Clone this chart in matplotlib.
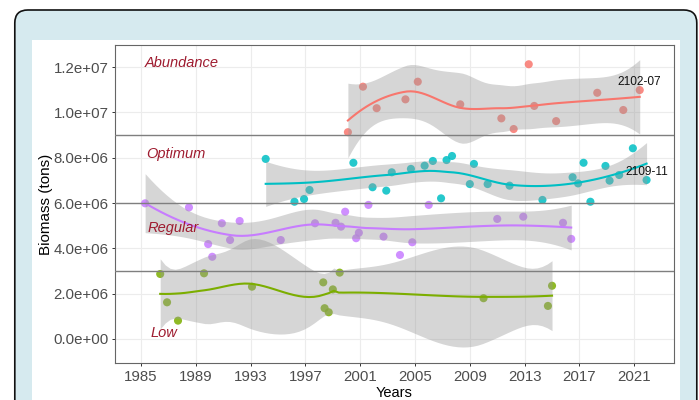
import numpy as np
import matplotlib
matplotlib.use("Agg")
import matplotlib.pyplot as plt
from matplotlib.patches import FancyBboxPatch, Rectangle

plt.rcParams["font.family"] = ["Liberation Sans", "DejaVu Sans"]

# biomass observations (tons) per stock state
abundance_year = [2000.1, 2001.2, 2002.2, 2004.3, 2005.2, 2008.3, 2011.3, 2012.2,
                  2013.3, 2013.7, 2015.3, 2018.3, 2020.2, 2021.4]
abundance_tons = [9.13e6, 11.14e6, 10.19e6, 10.58e6, 11.36e6, 10.36e6, 9.74e6, 9.27e6,
                  12.13e6, 10.29e6, 9.62e6, 10.87e6, 10.11e6, 10.99e6]

optimum_year = [1994.1, 1996.2, 1996.9, 1997.3, 2000.5, 2001.9, 2002.9, 2003.3,
                2004.7, 2005.7, 2006.3, 2006.9, 2007.3, 2007.7, 2009.0, 2009.3,
                2010.3, 2011.9, 2014.3, 2016.5, 2016.9, 2017.3, 2017.8, 2018.9,
                2019.2, 2019.9, 2020.9, 2021.9]
optimum_tons = [7.95e6, 6.06e6, 6.18e6, 6.58e6, 7.78e6, 6.70e6, 6.55e6, 7.36e6,
                7.51e6, 7.65e6, 7.86e6, 6.21e6, 7.90e6, 8.08e6, 6.84e6, 7.73e6,
                6.84e6, 6.77e6, 6.14e6, 7.14e6, 6.87e6, 7.78e6, 6.06e6, 7.64e6,
                6.99e6, 7.24e6, 8.42e6, 7.02e6]

regular_year = [1985.3, 1988.5, 1989.9, 1990.2, 1990.9, 1991.5, 1992.2, 1995.2,
                1997.7, 1999.2, 1999.6, 1999.9, 2000.7, 2000.9, 2001.6, 2002.7,
                2003.9, 2004.8, 2006.0, 2011.0, 2012.9, 2015.8, 2016.4]
regular_tons = [5.99e6, 5.81e6, 4.19e6, 3.63e6, 5.11e6, 4.37e6, 5.21e6, 4.37e6,
                5.11e6, 5.13e6, 4.96e6, 5.62e6, 4.45e6, 4.69e6, 5.92e6, 4.52e6,
                3.71e6, 4.27e6, 5.92e6, 5.30e6, 5.40e6, 5.13e6, 4.42e6]

low_year = [1986.4, 1986.9, 1987.7, 1989.6, 1993.1, 1998.3, 1998.4, 1998.7,
            1999.0, 1999.5, 2010.0, 2014.7, 2015.0]
low_tons = [2.87e6, 1.62e6, 0.81e6, 2.90e6, 2.31e6, 2.50e6, 1.36e6, 1.18e6,
            2.19e6, 2.93e6, 1.80e6, 1.46e6, 2.35e6]

thresholds = [9e6, 6e6, 3e6]
state_names = ["Abundance", "Optimum", "Regular", "Low"]
state_label_pos = [(1985.3, 12.19e6), (1985.35, 8.17e6), (1985.5, 4.9e6), (1985.7, 0.27e6)]
date_labels = [("2102-07", 2021.4, 11.36e6), ("2109-11", 2021.9, 7.38e6)]
x_ticks = list(range(1985, 2022, 4))
y_ticks = [0, 2e6, 4e6, 6e6, 8e6, 10e6, 12e6]


def t_quantile(df, z=1.959964):
    # Cornish-Fisher expansion of the Student t 97.5% quantile
    g1 = (z**3 + z) / 4
    g2 = (5 * z**5 + 16 * z**3 + 3 * z) / 96
    g3 = (3 * z**7 + 19 * z**5 + 17 * z**3 - 15 * z) / 384
    g4 = (79 * z**9 + 776 * z**7 + 1482 * z**5 - 1920 * z**3 - 945 * z) / 92160
    return z + g1 / df + g2 / df**2 + g3 / df**3 + g4 / df**4


def kd_vertices(xs, fc):
    """Split points at the median until each cell holds at most fc of them."""
    margin = 0.005 * (xs[-1] - xs[0])
    verts = [xs[0] - margin, xs[-1] + margin]

    def split(l, u, vlo, vhi):
        if u - l + 1 <= fc:
            return
        m = (l + u + 2) // 2 - 1
        while m > l and xs[m - 1] == xs[m]:
            m -= 1
        v = xs[m]
        if v == vlo or v == vhi:
            return
        verts.append(v)
        split(l, m, vlo, v)
        split(m + 1, u, v, vhi)

    split(0, len(xs) - 1, verts[0], verts[1])
    return np.array(sorted(verts))


def loess(x, y, grid, span=0.75, cell=0.2):
    """Local quadratic fit (kd-tree vertices + Hermite interpolation) with a 95% band."""
    x = np.asarray(x, float)
    y = np.asarray(y, float)
    n = len(x)
    q = int(np.floor(n * span + 1e-5))
    fc = int(np.floor(n * span * cell))

    def local_rows(x0):
        d = np.abs(x - x0)
        h = np.sort(d)[q - 1]
        u = np.clip(d / h, 0, 1)
        w = (1 - u**3) ** 3
        X = np.column_stack([np.ones(n), x - x0, (x - x0) ** 2])
        XtW = X.T * w
        sol = np.linalg.solve(XtW @ X, XtW)
        return sol[0], sol[1]

    verts = kd_vertices(np.sort(x), fc)
    rows = [local_rows(v) for v in verts]
    V0 = np.array([r[0] for r in rows])
    V1 = np.array([r[1] for r in rows])

    def interp_rows(z):
        z = np.atleast_1d(z)
        j = np.clip(np.searchsorted(verts, z, side="right") - 1, 0, len(verts) - 2)
        h = verts[j + 1] - verts[j]
        t = ((z - verts[j]) / h)[:, None]
        phi0 = (1 - t) ** 2 * (1 + 2 * t)
        phi1 = t**2 * (3 - 2 * t)
        psi0 = t * (1 - t) ** 2
        psi1 = t**2 * (t - 1)
        return (phi0 * V0[j] + phi1 * V0[j + 1]
                + (psi0 * V1[j] + psi1 * V1[j + 1]) * h[:, None])

    L = interp_rows(x)
    G = interp_rows(grid)
    fit = G @ y
    M = np.eye(n) - L
    MM = M.T @ M
    d1 = np.trace(MM)
    d2 = np.trace(MM @ MM)
    s = np.sqrt(np.sum((M @ y) ** 2) / d1)
    se = s * np.sqrt(np.sum(G**2, axis=1))
    tq = t_quantile(d1**2 / d2)
    return fit, fit - tq * se, fit + tq * se


def main():
    fig = plt.figure(figsize=(6.99, 4.0), dpi=100)

    # page frame and white plot card
    fig.patches.append(FancyBboxPatch((0.148, -0.3), 6.82, 4.2,
                                      boxstyle="round,pad=0,rounding_size=0.13",
                                      transform=fig.dpi_scale_trans, facecolor="#d6eaef",
                                      edgecolor="#111111", linewidth=1.2, zorder=-2))
    fig.patches.append(Rectangle((0.32, -0.3), 6.48, 3.9, transform=fig.dpi_scale_trans,
                                 facecolor="white", edgecolor="none", zorder=-1))

    ax = fig.add_axes([0.1645, 0.0925, 0.7997, 0.795])
    ax.set_zorder(2)
    ax.set_facecolor("white")

    groups = [
        (abundance_year, abundance_tons, "#F8766D"),
        (low_year, low_tons, "#7CAE00"),
        (optimum_year, optimum_tons, "#00BFC4"),
        (regular_year, regular_tons, "#C77CFF"),
    ]

    for yrs, vals, col in groups:
        ax.scatter(yrs, vals, s=34, color=col, alpha=0.85, edgecolors="none", zorder=2)

    for yrs, vals, col in groups:
        grid = np.linspace(min(yrs), max(yrs), 80)
        fit, lo, hi = loess(yrs, vals, grid)
        ax.fill_between(grid, lo, hi, color="#999999", alpha=0.4, linewidth=0, zorder=3)
        ax.plot(grid, fit, color=col, linewidth=1.5, zorder=4)

    for t in thresholds:
        ax.axhline(t, color="#7f7f7f", linewidth=1.0, zorder=5)

    for name, (px, py) in zip(state_names, state_label_pos):
        ax.text(px, py, name, color="#9e1b2f", fontsize=10.5, style="italic",
                ha="left", va="center", zorder=6)
    for txt, px, py in date_labels:
        ax.text(px, py, txt, color="#111111", fontsize=8.6, ha="center", va="center", zorder=6)

    ax.set_xlim(1983.1, 2023.9)
    ax.set_ylim(-1.06e6, 12.98e6)
    ax.set_xticks(x_ticks)
    ax.set_yticks(y_ticks)
    ax.set_yticklabels([f"{v:.1e}" for v in y_ticks])
    ax.grid(True, color="#ececec", linewidth=0.8, zorder=0)
    ax.set_axisbelow(True)

    ax.tick_params(axis="both", length=2.2, width=0.7, color="#333333",
                   labelcolor="#4d4d4d", labelsize=10.8, pad=2.5)
    for sp in ax.spines.values():
        sp.set_color("#666666")
        sp.set_linewidth(0.8)

    ax.set_xlabel("Years", fontsize=10.5, color="black", labelpad=1.5)
    ax.set_ylabel("Biomass (tons)", fontsize=11, color="black", labelpad=0.5)

    fig.savefig("out.png", dpi=100)
    plt.close(fig)


if __name__ == "__main__":
    main()
